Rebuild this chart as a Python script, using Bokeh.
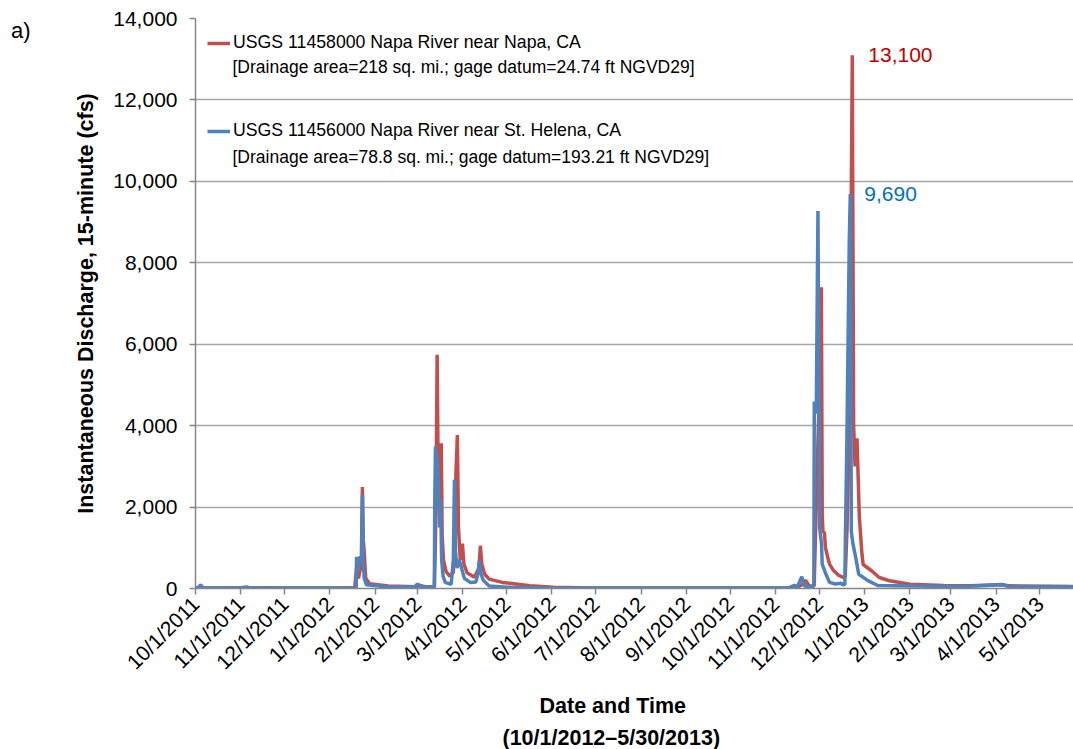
import pandas as pd
from math import pi
from bokeh.plotting import figure
from bokeh.models import (ColumnDataSource, FixedTicker, NumeralTickFormatter,
                          Legend, LegendItem, Label, Range1d, Title, LinearAxis)
from bokeh.embed import file_html
from bokeh.resources import INLINE

# ---------------- data ----------------
napa_time = [
    "2011-10-01", "2011-10-04", "2011-10-10", "2011-11-06", "2011-12-20",
    "2012-01-18", "2012-01-19 12:00", "2012-01-20 12:00", "2012-01-22 12:00",
    "2012-01-23 06:00", "2012-01-23 20:00", "2012-01-24 12:00", "2012-01-25 12:00",
    "2012-01-28", "2012-02-10", "2012-02-29", "2012-03-02", "2012-03-06",
    "2012-03-12 12:00", "2012-03-13 06:00", "2012-03-13 18:00", "2012-03-14 10:00",
    "2012-03-15 06:00", "2012-03-16 06:00", "2012-03-17 06:00", "2012-03-17 20:00",
    "2012-03-18 18:00", "2012-03-20 12:00", "2012-03-23", "2012-03-25 12:00",
    "2012-03-26 12:00", "2012-03-27 06:00", "2012-03-28 06:00", "2012-03-29 00:00",
    "2012-03-30 06:00", "2012-03-31 16:00", "2012-04-01 18:00", "2012-04-04",
    "2012-04-09", "2012-04-12 00:00", "2012-04-13 00:00", "2012-04-14 00:00",
    "2012-04-16", "2012-04-19", "2012-04-28", "2012-05-17", "2012-06-02",
    "2012-07-01", "2012-09-01", "2012-11-10", "2012-11-16", "2012-11-19",
    "2012-11-21 12:00", "2012-11-24", "2012-11-27 12:00", "2012-11-28 12:00",
    "2012-11-30 00:00", "2012-12-01 12:00", "2012-12-02 10:00", "2012-12-03 00:00",
    "2012-12-03 12:00", "2012-12-04 12:00", "2012-12-05 06:00", "2012-12-06 06:00",
    "2012-12-08", "2012-12-10 18:00", "2012-12-14", "2012-12-17 12:00",
    "2012-12-18 18:00", "2012-12-20 00:00", "2012-12-21 12:00", "2012-12-22 18:00",
    "2012-12-23 14:00", "2012-12-24 12:00", "2012-12-25 12:00", "2012-12-26 19:00",
    "2012-12-28 10:00", "2012-12-30 05:00", "2012-12-31", "2013-01-06",
    "2013-01-11", "2013-01-18", "2013-02-01", "2013-02-24", "2013-03-15",
    "2013-04-05", "2013-04-10", "2013-05-24",
]
napa_cfs = [
    20, 25, 15, 20, 15,
    15, 600, 250, 600,
    2490, 1200, 900, 250,
    120, 60, 40, 80, 45,
    40, 1200, 2800, 5740,
    2200, 2600, 3570, 1300,
    700, 420, 300, 400,
    1600, 2800, 3770, 1500,
    700, 1100, 600, 380,
    280, 500, 1050, 590,
    350, 230, 150, 70, 30,
    15, 10, 15, 25, 90,
    200, 70, 60, 1500,
    3500, 5500, 7400, 1800,
    1400, 1370, 1000, 840,
    600, 440, 330, 270,
    300, 1500, 4000, 9000,
    13100, 4000, 3000, 3690,
    1750, 840, 590, 430,
    270, 190, 105, 75, 70,
    100, 65, 50,
]

helena_time = [
    "2011-10-01", "2011-10-03", "2011-10-04 12:00", "2011-10-06", "2011-11-01",
    "2011-11-05", "2011-11-07", "2012-01-19 00:00", "2012-01-19 06:00",
    "2012-01-20 06:00", "2012-01-21 12:00", "2012-01-22 18:00", "2012-01-23 06:00",
    "2012-01-23 18:00", "2012-01-24 12:00", "2012-01-26", "2012-02-10",
    "2012-02-28", "2012-03-01", "2012-03-03", "2012-03-12 12:00",
    "2012-03-12 18:00", "2012-03-13 06:00", "2012-03-13 18:00", "2012-03-14 06:00",
    "2012-03-15 00:00", "2012-03-16 00:00", "2012-03-16 18:00", "2012-03-17 12:00",
    "2012-03-18 12:00", "2012-03-20", "2012-03-24", "2012-03-25 12:00",
    "2012-03-26 06:00", "2012-03-27 00:00", "2012-03-28 00:00", "2012-03-29 12:00",
    "2012-03-31", "2012-04-02", "2012-04-06", "2012-04-10", "2012-04-11 12:00",
    "2012-04-12 06:00", "2012-04-13 12:00", "2012-04-15", "2012-04-19",
    "2012-05-01", "2012-06-01", "2012-09-01", "2012-11-10", "2012-11-14",
    "2012-11-16", "2012-11-19", "2012-11-21", "2012-11-24", "2012-11-27 06:00",
    "2012-11-27 14:00", "2012-11-28 22:00", "2012-11-30 02:00", "2012-12-01 05:00",
    "2012-12-02 12:00", "2012-12-03 00:00", "2012-12-05", "2012-12-08",
    "2012-12-12", "2012-12-16", "2012-12-17", "2012-12-18 12:00",
    "2012-12-18 19:00", "2012-12-19 22:00", "2012-12-21 12:00", "2012-12-22 05:00",
    "2012-12-22 22:00", "2012-12-24", "2012-12-25 12:00", "2012-12-28",
    "2013-01-03", "2013-01-10", "2013-02-01", "2013-03-10", "2013-04-05",
    "2013-04-10", "2013-05-24",
]
helena_cfs = [
    10, 15, 90, 15, 20,
    40, 15, 15, 780,
    450, 780, 750, 2300,
    700, 250, 90, 35,
    40, 110, 40, 30,
    2000, 3490, 2400, 3300,
    2700, 1500, 2200, 700,
    300, 150, 100, 700,
    2670, 900, 500, 700,
    520, 250, 150, 160, 400,
    680, 350, 200, 60,
    30, 15, 10, 15, 80,
    40, 290, 60, 30, 60,
    4590, 4300, 9270, 1500,
    1100, 600, 400, 150,
    110, 130, 90, 100,
    1050, 3740, 8500, 9690,
    1400, 1100, 840, 350,
    200, 75, 60, 50, 90,
    50, 40,
]

month_ticks = [
    "2011-10-01", "2011-11-01", "2011-12-01", "2012-01-01", "2012-02-01",
    "2012-03-01", "2012-04-01", "2012-05-01", "2012-06-01", "2012-07-01",
    "2012-08-01", "2012-09-01", "2012-10-01", "2012-11-01", "2012-12-01",
    "2013-01-01", "2013-02-01", "2013-03-01", "2013-04-01", "2013-05-01",
]
month_labels = [
    "10/1/2011", "11/1/2011", "12/1/2011", "1/1/2012", "2/1/2012",
    "3/1/2012", "4/1/2012", "5/1/2012", "6/1/2012", "7/1/2012",
    "8/1/2012", "9/1/2012", "10/1/2012", "11/1/2012", "12/1/2012",
    "1/1/2013", "2/1/2013", "3/1/2013", "4/1/2013", "5/1/2013",
]
y_ticks = [0, 2000, 4000, 6000, 8000, 10000, 12000, 14000]
x_start, x_end = "2011-10-01", "2013-05-24"

x_title = ["Date and Time", "(10/1/2012\u20135/30/2013)"]
y_title = "Instantaneous Discharge, 15-minute (cfs)"
panel_tag = "a)"
napa_label = ["USGS 11458000 Napa River near Napa, CA",
              "[Drainage area=218 sq. mi.; gage datum=24.74 ft NGVD29]"]
helena_label = ["USGS 11456000 Napa River near St. Helena, CA",
                "[Drainage area=78.8 sq. mi.; gage datum=193.21 ft NGVD29]"]

RED = "#C0504D"
BLUE = "#4F81BD"
FONT = "Liberation Sans"


def ms(s):
    return int(pd.Timestamp(s).value // 10**6)


src_napa = ColumnDataSource(dict(t=pd.to_datetime(napa_time, format="mixed"), q=napa_cfs))
src_hel = ColumnDataSource(dict(t=pd.to_datetime(helena_time, format="mixed"), q=helena_cfs))

p = figure(width=1073, height=749, x_axis_type="datetime",
           x_range=Range1d(ms(x_start), ms(x_end)), y_range=Range1d(0, 14000),
           output_backend="svg", toolbar_location=None,
           min_border_left=195, min_border_top=18, min_border_right=0,
           min_border_bottom=158)
p.outline_line_color = None
p.background_fill_color = "white"
p.border_fill_color = "white"

r_red = p.line("t", "q", source=src_napa, color=RED, line_width=3.5)
r_blue = p.line("t", "q", source=src_hel, color=BLUE, line_width=3.5)

# axes
tick_ms = [ms(s) for s in month_ticks]
p.xaxis.ticker = FixedTicker(ticks=tick_ms)
p.xaxis.major_label_overrides = {t: lab for t, lab in zip(tick_ms, month_labels)}
p.xaxis.major_label_orientation = pi / 4
p.yaxis.ticker = FixedTicker(ticks=y_ticks)
p.yaxis.formatter = NumeralTickFormatter(format="0,0")
p.yaxis.axis_label = y_title

for ax in (p.xaxis[0], p.yaxis[0]):
    ax.axis_line_color = "#868686"
    ax.axis_line_width = 1.5
    ax.major_tick_line_color = "#868686"
    ax.major_tick_line_width = 1.5
    ax.major_tick_in = 0
    ax.major_tick_out = 6
    ax.minor_tick_line_color = None
    ax.major_label_text_font = FONT
    ax.major_label_text_font_size = "21px"
    ax.major_label_text_color = "black"
    ax.axis_label_text_font = FONT
    ax.axis_label_text_font_size = "21.5px"
    ax.axis_label_text_font_style = "bold"
    ax.axis_label_text_color = "black"
p.yaxis.major_label_standoff = 12
p.yaxis.axis_label_standoff = 12
p.xaxis.major_label_standoff = 6

# x-axis title: two lines under the tick labels
for txt, so, off in zip(x_title, (12, 0), (344, 307)):
    p.add_layout(Title(text=txt, align="left", offset=off, standoff=so,
                       text_font=FONT, text_font_size="21.5px", text_font_style="bold",
                       text_color="black"), "below")

# panel tag "a)" as the label of an otherwise invisible outer axis
p.extra_y_ranges = {"tag": Range1d(0, 573)}
tag_axis = LinearAxis(y_range_name="tag", ticker=FixedTicker(ticks=[561]),
                      major_label_overrides={561: panel_tag},
                      axis_line_color=None, major_tick_line_color=None,
                      minor_tick_line_color=None, major_label_standoff=35,
                      major_label_text_font=FONT, major_label_text_font_size="22px",
                      major_label_text_color="black")
p.add_layout(tag_axis, "left")

p.xgrid.visible = False
p.ygrid.grid_line_color = "#A6A6A6"
p.ygrid.grid_line_width = 1.5

# legend
legend = Legend(items=[LegendItem(label=napa_label[0], renderers=[r_red]),
                       LegendItem(label=helena_label[0], renderers=[r_blue])],
                location=(12, 447), orientation="vertical")
legend.glyph_width = 23
legend.glyph_height = 20
legend.label_height = 20
legend.label_standoff = 3
legend.spacing = 67
legend.padding = 0
legend.margin = 0
legend.border_line_color = None
legend.background_fill_alpha = 0
legend.label_text_font = FONT
legend.label_text_font_size = "17.7px"
legend.label_text_color = "black"
p.add_layout(legend)

for txt, yy in ((napa_label[1], 522), (helena_label[1], 432)):
    p.add_layout(Label(x=37, y=yy, x_units="screen", y_units="screen", text=txt,
                       text_font=FONT, text_font_size="17.5px", text_color="black",
                       text_baseline="middle"))

# peak annotations
i_r = napa_cfs.index(max(napa_cfs))
i_b = helena_cfs.index(max(helena_cfs))
p.add_layout(Label(x=ms(napa_time[i_r]), y=napa_cfs[i_r], x_offset=16,
                   text=f"{napa_cfs[i_r]:,}", text_font=FONT, text_font_size="21px",
                   text_color="#C00000", text_baseline="middle"))
p.add_layout(Label(x=ms(helena_time[i_b]), y=helena_cfs[i_b], x_offset=14,
                   text=f"{helena_cfs[i_b]:,}", text_font=FONT, text_font_size="21px",
                   text_color="#0070C0", text_baseline="middle"))

open("out.html", "w").write(file_html(p, INLINE))
